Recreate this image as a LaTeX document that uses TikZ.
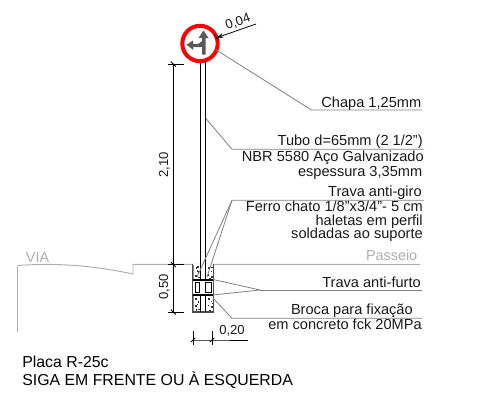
\documentclass[tikz,border=0pt]{standalone}
\usepackage{fontspec}
\setmainfont{Liberation Sans}
\usetikzlibrary{arrows.meta}
\definecolor{leader}{gray}{0.5}
\definecolor{ground}{gray}{0.68}
\definecolor{signg}{gray}{0.35}
\definecolor{txt}{gray}{0.1}
\tikzset{
  lbl/.style={font=\fontsize{10.95pt}{12pt}\selectfont,text=txt,inner sep=0pt,anchor=base east},
  dimtext/.style={font=\fontsize{9.8pt}{11pt}\selectfont,text=txt,inner sep=0pt},
  gtext/.style={font=\fontsize{10.8pt}{12pt}\selectfont,text=ground,inner sep=0pt},
  note/.style={font=\fontsize{11.9pt}{13pt}\selectfont,text=black,inner sep=0pt,anchor=base west},
  lead/.style={draw=leader,line width=0.6pt},
  dimline/.style={draw=black,line width=0.6pt},
  tick/.style={draw=black,line width=0.6pt},
  pole/.style={draw=black,line width=0.75pt},
  speck/.style={fill=black!80,draw=none}
}
\begin{document}
\begin{tikzpicture}[x=0.75pt,y=-0.75pt]
\useasboundingbox (0,0) rectangle (481,414);
% road
\coordinate (curbbase) at (17.5,332);
\coordinate (curbtop) at (17.5,265.5);
\coordinate (curbend) at (133,274);
\coordinate (walkstart) at (133,264.3);
\coordinate (walkend) at (420,264.5);
\draw[draw=ground,line width=0.9pt] (curbbase) -- (curbtop);
\draw[draw=ground,line width=0.7pt] (curbtop) .. controls (60,262.5) and (95,266) .. (curbend) -- (walkstart) -- (walkend);
\node[gtext,anchor=base] (via) at (37.5,262) {VIA};
\node[gtext,anchor=base east] (passeio) at (417.5,260.7) {Passeio};
% pole
\coordinate (pl1) at (200,62);
\coordinate (pl2) at (200,280);
\coordinate (pr1) at (205.6,62);
\coordinate (pr2) at (205.6,280);
\fill[white] (192.7,264) rectangle (213.3,312);
\draw[draw=black!70,line width=0.8pt] (192.7,264) -- (192.7,312) -- (213.3,312) -- (213.3,264);
\draw[draw=black!45,line width=1pt] (193.6,264.5) -- (193.6,279);
\draw[draw=black!45,line width=1pt] (193.6,296) -- (193.6,311);
\draw[pole] (pl1) -- (pl2);
\draw[pole] (pr1) -- (pr2);
\foreach \x/\y in {195.5/267,197.5/271,195/275,198/276.5,196.5/270,197/266,208/267,210.5/270.5,207.5/274,211/276,209/277.5,211/266.5,
  195/298,197.5/301,195/305,198/308.5,196.5/303.5,208/298,210.5/300.5,207.5/304.5,211/306,209/309.5,211.5/302.5,195.5/309}
  \fill[speck] (\x,\y) rectangle ++(1.5,1.8);
\draw[draw=black,line width=0.7pt] (200,295) -- (200,312) (205.6,295) -- (205.6,312);
\draw[draw=black,line width=0.7pt] (195,282.5) rectangle (199.7,292.8);
\draw[draw=black,line width=0.7pt] (205.8,282.5) rectangle (211,292.8);
\fill[black] (192.7,279) rectangle (213.3,281.4);
\fill[black] (192.7,293.6) rectangle (213.3,295.8);
% sign
\coordinate (sc) at (200,43.5);
\fill[signg] (203.5,30.5) -- (208.5,38) -- (205.5,38) -- (205.5,54.5) -- (202,54.5) -- (202,47.2) -- (193,47.2) -- (193,49.8) -- (186.5,44.8) -- (193,40.5) -- (193,43.8) -- (198.5,43.8) -- (202,41) -- (202,38) -- (198.5,38) -- cycle;
\draw[draw=red,line width=3pt] (sc) circle[radius=17.7];
% vertical dimension
\coordinate (d1) at (173.3,64);
\coordinate (d2) at (173.3,264.5);
\coordinate (d3) at (173.3,312);
\draw[dimline] (d1) -- (d2) -- (d3);
\draw[tick] (168,64) -- (183.5,64) (168,264.5) -- (184,264.5) (168,312) -- (184,312);
\draw[tick] (170.8,61.5) -- (175.8,66.5) (170.8,262) -- (175.8,267) (170.8,309.5) -- (175.8,314.5);
\node[dimtext,rotate=90] (d210) at (164.5,165) {2,10};
\node[dimtext,rotate=90] (d050) at (164.5,287) {0,50};
% 0,20 dimension
\coordinate (wa) at (193,340);
\coordinate (wb) at (212,340);
\coordinate (wc) at (248,340);
\draw[dimline] (wa) -- (wb) -- (wc);
\draw[tick] (193,331) -- (193,345) (212,331) -- (212,345);
\draw[tick] (190.8,342.2) -- (195.2,337.8) (209.8,342.2) -- (214.2,337.8);
\node[dimtext] (d020) at (232,331) {0,20};
% 0,04 dimension
\coordinate (ta) at (256,24);
\coordinate (tb) at (216.7,37.7);
\draw[dimline,-{Stealth[length=5pt,width=3.5pt]}] (ta) -- (tb);
\draw[tick] (214.5,34.5) -- (218.5,40.5);
\node[dimtext,rotate=19] (d004) at (238,22) {0,04};
% labels
\node[lbl] (chapa) at (421.5,107.3) {Chapa 1,25mm};
\coordinate (c0) at (215.5,49.5);
\coordinate (c1) at (311.5,110);
\coordinate (c2) at (422,110);
\draw[lead] (c0) -- (c1) -- (c2);
\node[lbl] (tubo) at (423,145.7) {Tubo d=65mm (2 1/2")};
\node[lbl] (nbr) at (424,161.7) {NBR 5580 Aço Galvanizado};
\node[lbl] (esp) at (422.5,176.7) {espessura 3,35mm};
\coordinate (t0) at (206,118.5);
\coordinate (t1) at (232,149.3);
\coordinate (t2) at (424,149.3);
\draw[lead] (t0) -- (t1) -- (t2);
\node[lbl] (trava) at (422,196.7) {Trava anti-giro};
\node[lbl] (ferro) at (423,211.7) {Ferro chato 1/8"x3/4"- 5 cm};
\node[lbl] (hal) at (423,225.5) {haletas em perfil};
\node[lbl] (sold) at (423,238.7) {soldadas ao suporte};
\coordinate (g0) at (197,277);
\coordinate (g1) at (207,277);
\coordinate (g2) at (232,200.3);
\coordinate (g3) at (424,200.3);
\draw[lead] (g0) -- (g2) -- (g3);
\draw[lead] (g1) -- (g2);
\node[lbl] (furto) at (421,287) {Trava anti-furto};
\coordinate (f0) at (213,279.5);
\coordinate (f1) at (213,295);
\coordinate (f2) at (260,290);
\coordinate (f3) at (422,290);
\draw[lead] (f0) -- (f2) -- (f1);
\draw[lead] (f2) -- (f3);
\node[lbl] (broca) at (413,314) {Broca para fixação};
\node[lbl] (conc) at (422,329.3) {em concreto fck 20MPa};
\coordinate (b0) at (213,298);
\coordinate (b1) at (232,318.3);
\coordinate (b2) at (422,318.3);
\draw[lead] (b0) -- (b1) -- (b2);
% title
\node[note] (placa) at (22,367.7) {Placa R-25c};
\node[note] (siga) at (22,385) {SIGA EM FRENTE OU À ESQUERDA};
\end{tikzpicture}
\end{document}
